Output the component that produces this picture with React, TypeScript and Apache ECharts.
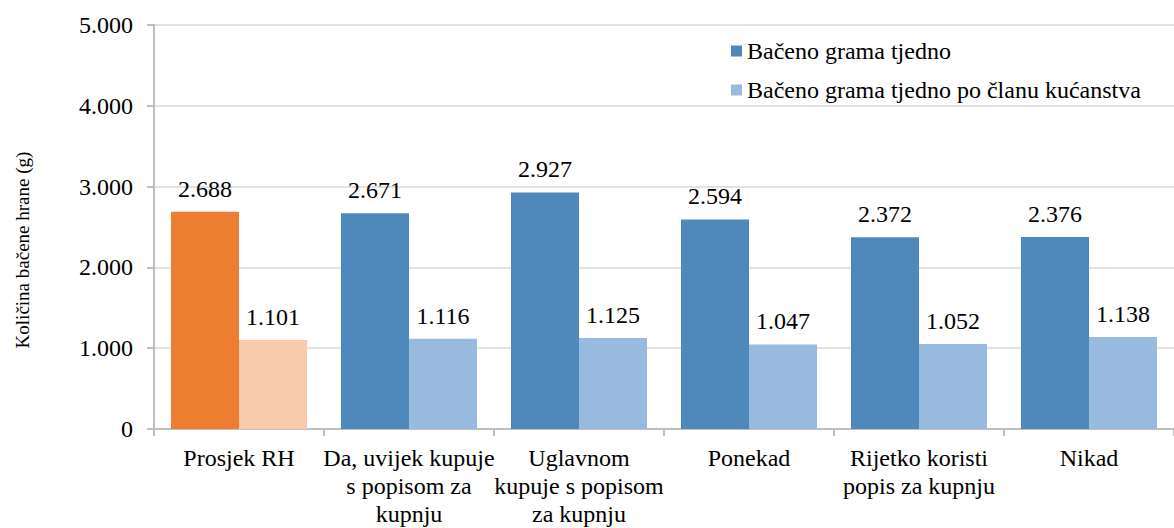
import React, { useEffect, useRef } from "react";
import * as echarts from "echarts";

const categories = [
  "Prosjek RH",
  "Da, uvijek kupuje\ns popisom za\nkupnju",
  "Uglavnom\nkupuje s popisom\nza kupnju",
  "Ponekad",
  "Rijetko koristi\npopis za kupnju",
  "Nikad",
];
const weeklyGrams = [2688, 2671, 2927, 2594, 2372, 2376];
const perMemberGrams = [1101, 1116, 1125, 1047, 1052, 1138];
const seriesNames = ["Bačeno grama tjedno", "Bačeno grama tjedno po članu kućanstva"];
const yAxisName = "Količina bačene hrane (g)";

const fmt = (v: number) => {
  const s = String(Math.round(v));
  return s.replace(/\B(?=(\d{3})+(?!\d))/g, ".");
};

const FONT = "Times New Roman, Liberation Serif, DejaVu Serif, serif";

export default function App() {
  const ref = useRef<HTMLDivElement>(null);
  useEffect(() => {
    document.body.style.margin = "0";
    const chart = echarts.init(ref.current!, undefined, { renderer: "svg" });
    const blue = "#4f89bc";
    const lightBlue = "#98badf";
    const orange = "#ed7d31";
    const lightOrange = "#f8cbad";
    chart.setOption({
      animation: false,
      textStyle: { fontFamily: FONT },
      grid: { left: 154, top: 25, width: 1030, height: 408, containLabel: false },
      legend: {
        orient: "vertical",
        left: 731,
        top: 39,
        padding: 0,
        itemWidth: 11,
        itemHeight: 11,
        itemGap: 15,
        icon: "rect",
        textStyle: { fontFamily: FONT, fontSize: 24, color: "#000" },
        data: seriesNames,
      },
      graphic: [
        {
          type: "text",
          x: 22,
          y: 250,
          rotation: Math.PI / 2,
          style: {
            text: yAxisName,
            fontFamily: FONT,
            fontSize: 19,
            fill: "#000",
            textAlign: "center",
            textVerticalAlign: "middle",
          },
        },
      ],
      xAxis: {
        type: "category",
        data: categories,
        axisLine: { lineStyle: { color: "#bfbfbf", width: 2 } },
        axisTick: { show: true, length: 7, lineStyle: { color: "#bfbfbf", width: 2 } },
        axisLabel: {
          interval: 0,
          margin: 15,
          fontFamily: FONT,
          fontSize: 24,
          color: "#000",
          lineHeight: 28,
        },
      },
      yAxis: {
        type: "value",
        min: 0,
        max: 5000,
        interval: 1000,
        axisLine: { show: true, lineStyle: { color: "#bfbfbf", width: 2 } },
        axisTick: { show: true, length: 7, lineStyle: { color: "#bfbfbf", width: 2 } },
        splitLine: { lineStyle: { color: "#d9d9d9", width: 1.5 } },
        axisLabel: {
          margin: 21,
          fontFamily: FONT,
          fontSize: 24,
          color: "#000",
          formatter: (v: number) => fmt(v),
        },
      },
      series: [
        {
          name: seriesNames[0],
          type: "bar",
          barGap: "0%",
          barCategoryGap: "20%",
          itemStyle: { color: blue },
          data: weeklyGrams.map((v, i) =>
            i === 0 ? { value: v, itemStyle: { color: orange } } : v
          ),
          label: {
            show: true,
            position: "top",
            distance: 11,
            fontFamily: FONT,
            fontSize: 24,
            color: "#000",
            formatter: (p: any) => fmt(p.value),
          },
        },
        {
          name: seriesNames[1],
          type: "bar",
          itemStyle: { color: lightBlue },
          data: perMemberGrams.map((v, i) =>
            i === 0 ? { value: v, itemStyle: { color: lightOrange } } : v
          ),
          label: {
            show: true,
            position: "top",
            distance: 11,
            fontFamily: FONT,
            fontSize: 24,
            color: "#000",
            formatter: (p: any) => fmt(p.value),
          },
        },
      ],
    });
    return () => chart.dispose();
  }, []);
  return <div ref={ref} style={{ width: 1174, height: 528 }} />;
}
